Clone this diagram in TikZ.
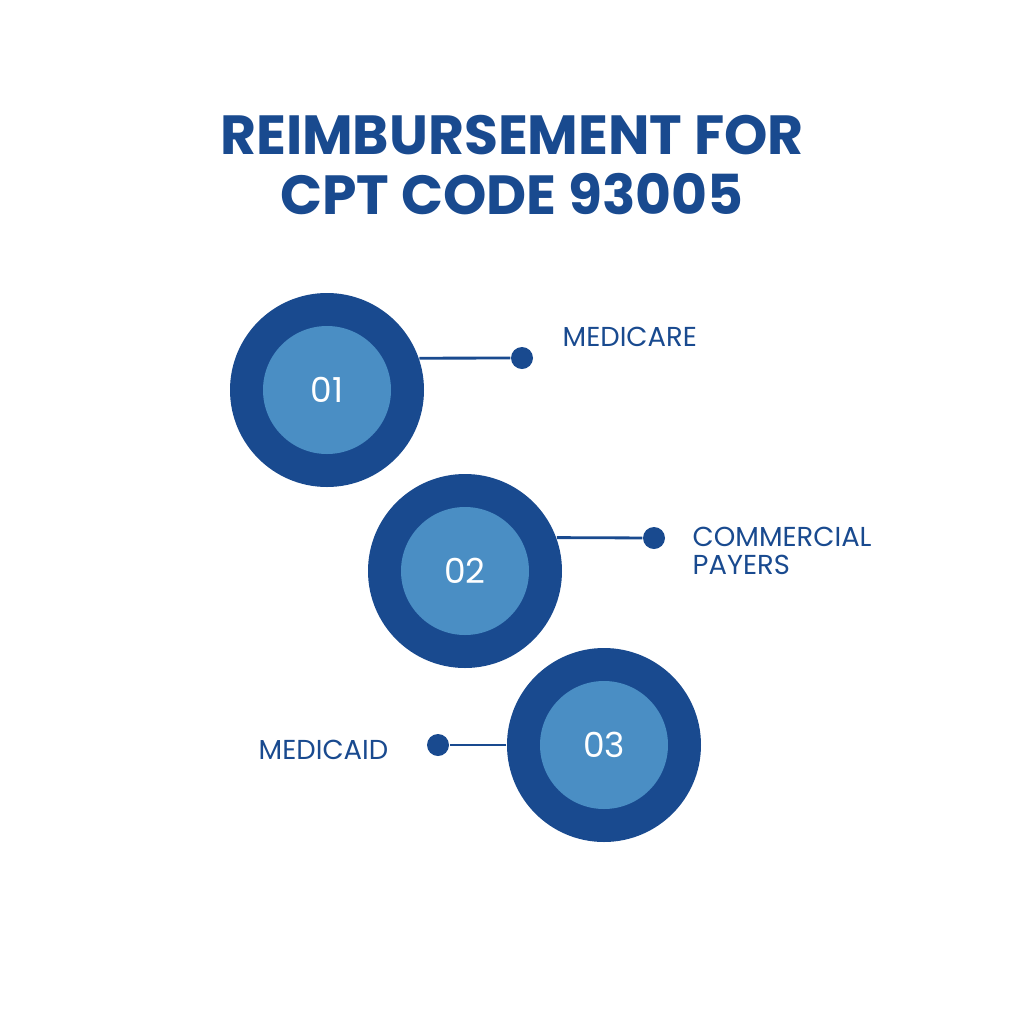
\documentclass[tikz,border=0pt]{standalone}
\usepackage{fontspec}
\setmainfont{Poppins}
\usepackage{xcolor}
\usepackage{tikz}
\usetikzlibrary{positioning}
\definecolor{darkblue}{HTML}{194A8F}
\definecolor{lightblue}{HTML}{4A8EC4}

\begin{document}
\begin{tikzpicture}[
    ring/.style={circle, fill=darkblue, minimum size=1.94cm, inner sep=0pt},
    core/.style={circle, fill=lightblue, minimum size=1.28cm, inner sep=0pt, text=white, font=\fontsize{9.8}{10}\selectfont},
    endpoint/.style={circle, fill=darkblue, minimum size=0.22cm, inner sep=0pt},
    itemtext/.style={text=darkblue, font=\fontsize{7.8}{8.1}\selectfont, inner sep=0pt, align=left},
    headline/.style={text=darkblue, font=\fontsize{15.7}{17.1}\selectfont\bfseries, inner sep=0pt, align=center},
    link/.style={draw=darkblue, line width=0.8pt}
]
    % Frame
    \useasboundingbox (0,0) rectangle (10.24,-10.24);

    % Title
    \node[headline] (title) at (5.12,-1.65) {REIMBURSEMENT FOR\\CPT CODE 93005};

    % The three circles
    \foreach \i/\x/\y in {1/3.27/3.90, 2/4.65/5.71, 3/6.04/7.45} {
        \node[ring] (c\i) at (\x,-\y) {};
        \node[core] (n\i) at (c\i) {0\i};
    }

    % End points
    \node[endpoint] (d1) at (5.22,-3.58) {};
    \node[endpoint] (d2) at (6.54,-5.38) {};
    \node[endpoint] (d3) at (4.38,-7.45) {};

    % Links
    \draw[link] (c1.19) -- (d1);
    \draw[link] (c2.20) -- (d2);
    \draw[link] (c3.west) -- (d3);

    % Labels
    \node[itemtext, anchor=west] (l1) at (5.62,-3.37) {MEDICARE};
    \node[itemtext, anchor=west] (l2) at (6.92,-5.51) {COMMERCIAL\\PAYERS};
    \node[itemtext, anchor=east] (l3) at (3.89,-7.50) {MEDICAID};
\end{tikzpicture}
\end{document}
